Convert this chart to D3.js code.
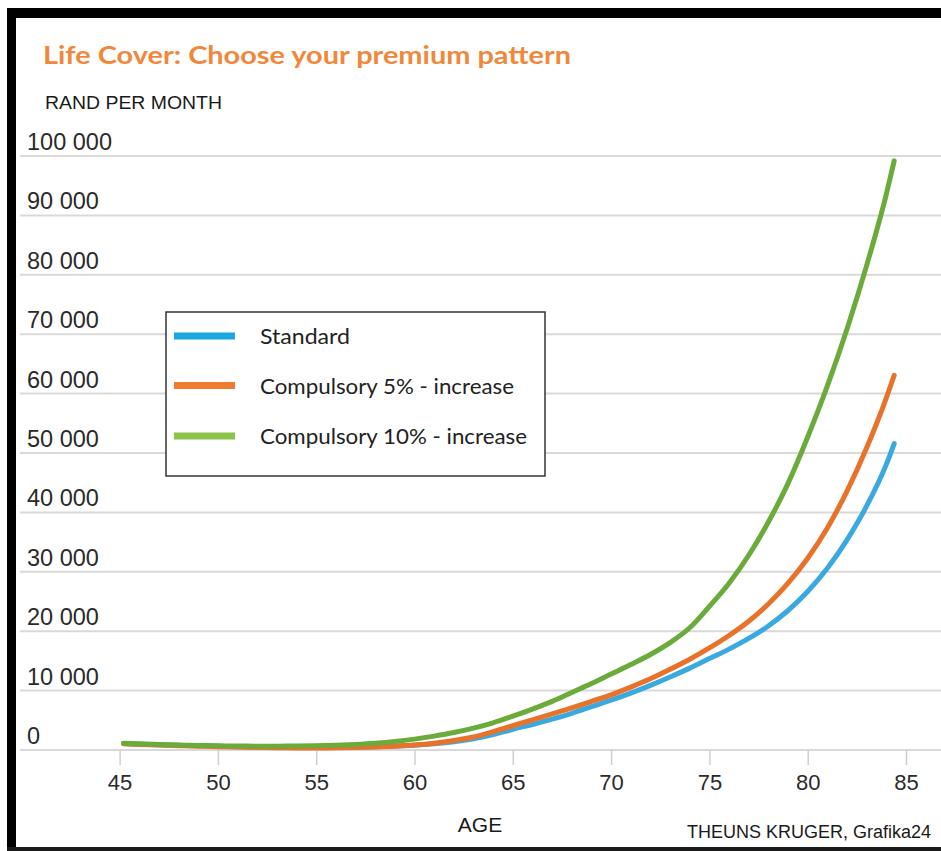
<!DOCTYPE html>
<html>
<head>
<meta charset="utf-8">
<script src="https://cdn.jsdelivr.net/npm/d3@7"></script>
<style>
html,body{margin:0;padding:0;background:#fff;}
svg{display:block;}
</style>
</head>
<body>
<svg id="chart" width="941" height="851"></svg>
<script>
// ---- Data ----
const title = "Life Cover: Choose your premium pattern";
const yAxisTitle = "RAND PER MONTH";
const xAxisTitle = "AGE";
const credit = "THEUNS KRUGER, Grafika24";

const seriesNames = ["Standard", "Compulsory 5% - increase", "Compulsory 10% - increase"];
const xTicks = [45, 50, 55, 60, 65, 70, 75, 80, 85];
const yTicks = [0, 10000, 20000, 30000, 40000, 50000, 60000, 70000, 80000, 90000, 100000];
const yTickLabels = ["0", "10 000", "20 000", "30 000", "40 000", "50 000", "60 000", "70 000", "80 000", "90 000", "100 000"];

const ages = [45.2, 46, 47, 48, 49, 50, 51, 52, 53, 54, 55, 56, 57, 58, 59, 60, 61, 62, 63, 64,
  65, 66, 67, 68, 69, 70, 71, 72, 73, 74, 75, 76, 77, 78, 79, 80, 81, 82, 83, 84, 84.4];

const standard = [1000, 900, 800, 700, 620, 550, 480, 420, 380, 350, 340, 350, 390, 460, 560, 700, 950, 1300, 1800, 2500,
  3400, 4200, 5100, 6100, 7200, 8300, 9500, 10800, 12200, 13700, 15300, 16900, 18700, 20800, 23400, 26600, 30500, 35300, 41000, 48000, 51500];

const compulsory5 = [950, 850, 750, 650, 560, 480, 410, 350, 300, 270, 260, 280, 330, 420, 550, 750, 1050, 1500, 2100, 3000,
  4000, 5000, 6000, 7000, 8100, 9200, 10500, 11900, 13500, 15200, 17100, 19200, 21600, 24500, 28000, 32200, 37300, 43500, 50800, 59200, 63000];

const compulsory10 = [1050, 950, 850, 760, 680, 620, 580, 560, 560, 580, 630, 720, 860, 1060, 1350, 1750, 2250, 2850, 3600, 4500,
  5600, 6800, 8100, 9600, 11100, 12700, 14300, 16000, 18000, 20500, 24100, 28000, 32700, 38300, 44800, 52600, 61200, 70800, 81500, 93500, 99100];

const lineColors = ["#3aa9df", "#e9722b", "#6aab3b"];
const legendColors = ["#1ba7e1", "#ef7b2c", "#8cc449"];

// ---- Build ----
const svg = d3.select("#chart");
const series = [standard, compulsory5, compulsory10].map((vals, i) => ({
  name: seriesNames[i],
  points: ages.map((a, j) => ({age: a, value: vals[j]}))
}));

const x = d3.scaleLinear().domain([45, 85]).range([119.6, 906]);
const y = d3.scaleLinear().domain([0, 100000]).range([749.5, 155.5]);

// frame
svg.append("rect").attr("x", 0).attr("y", 0).attr("width", 941).attr("height", 851).attr("fill", "#fff");
svg.append("rect").attr("x", 7).attr("y", 8).attr("width", 934).attr("height", 10).attr("fill", "#000");
svg.append("rect").attr("x", 7).attr("y", 8).attr("width", 9).attr("height", 843).attr("fill", "#000");
svg.append("rect").attr("x", 7).attr("y", 847).attr("width", 934).attr("height", 4).attr("fill", "#1a1a1a");

const condensed = "'Liberation Sans Narrow', 'Liberation Sans', Arial, sans-serif";

// title
svg.append("text")
  .attr("x", 43).attr("y", 64)
  .attr("font-family", "Lato, 'Liberation Sans', sans-serif")
  .attr("font-weight", "bold")
  .attr("font-size", 25)
  .attr("fill", "#f0883b")
  .attr("textLength", 528).attr("lengthAdjust", "spacingAndGlyphs")
  .text(title);

svg.append("text")
  .attr("x", 45).attr("y", 109)
  .attr("font-family", condensed)
  .attr("font-size", 19)
  .attr("fill", "#1a1a1a")
  .attr("textLength", 177).attr("lengthAdjust", "spacingAndGlyphs")
  .text(yAxisTitle);

// y grid + labels
const yAxis = d3.axisRight(y)
  .tickValues(yTicks)
  .tickSize(921)
  .tickFormat((d, i) => yTickLabels[i]);
const gy = svg.append("g").attr("transform", "translate(20,0)").call(yAxis);
gy.select(".domain").remove();
gy.selectAll(".tick line").attr("stroke", "#d9d9d9").attr("stroke-width", 2);
gy.selectAll(".tick text")
  .attr("x", 7).attr("dy", -6)
  .attr("text-anchor", "start")
  .attr("font-family", condensed)
  .attr("font-size", 23.5)
  .attr("fill", "#2a2a2a")
  .attr("y", 0);

// x axis
const xAxis = d3.axisBottom(x).tickValues(xTicks).tickSize(15).tickPadding(10).tickFormat(d3.format("d"));
const gx = svg.append("g").attr("transform", "translate(0,750)").call(xAxis);
gx.select(".domain").remove();
gx.selectAll(".tick line").attr("stroke", "#cfcfcf").attr("stroke-width", 1.5);
gx.selectAll(".tick text")
  .attr("font-family", condensed)
  .attr("font-size", 22)
  .attr("fill", "#2a2a2a")
  .attr("dy", 0)
  .attr("y", 40);

svg.append("text")
  .attr("x", 480).attr("y", 832)
  .attr("text-anchor", "middle")
  .attr("font-family", condensed)
  .attr("font-size", 21)
  .attr("fill", "#1a1a1a")
  .text(xAxisTitle);

svg.append("text")
  .attr("x", 931).attr("y", 838)
  .attr("text-anchor", "end")
  .attr("font-family", condensed)
  .attr("font-size", 18)
  .attr("fill", "#1a1a1a")
  .text(credit);

// lines
const line = d3.line().x(d => x(d.age)).y(d => y(d.value)).curve(d3.curveMonotoneX);
svg.append("g").selectAll("path")
  .data(series)
  .join("path")
  .attr("d", d => line(d.points))
  .attr("fill", "none")
  .attr("stroke", (d, i) => lineColors[i])
  .attr("stroke-width", 5)
  .attr("stroke-linecap", "round")
  .attr("stroke-linejoin", "round");

// legend
const lg = svg.append("g");
lg.append("rect")
  .attr("x", 166).attr("y", 312).attr("width", 379).attr("height", 164)
  .attr("fill", "#fff").attr("stroke", "#333").attr("stroke-width", 1.5);
const legendRows = [336, 385.5, 436];
const legendWidths = [90, 254, 267];
seriesNames.forEach((name, i) => {
  lg.append("rect")
    .attr("x", 174).attr("y", legendRows[i] - 3.5)
    .attr("width", 61).attr("height", 7)
    .attr("fill", legendColors[i]);
  lg.append("text")
    .attr("x", 260).attr("y", legendRows[i] + 8)
    .attr("font-family", "Lato, 'Open Sans', sans-serif")
    .attr("font-size", 21)
    .attr("fill", "#222")
    .attr("textLength", legendWidths[i]).attr("lengthAdjust", "spacingAndGlyphs")
    .text(name);
});
</script>
</body>
</html>
